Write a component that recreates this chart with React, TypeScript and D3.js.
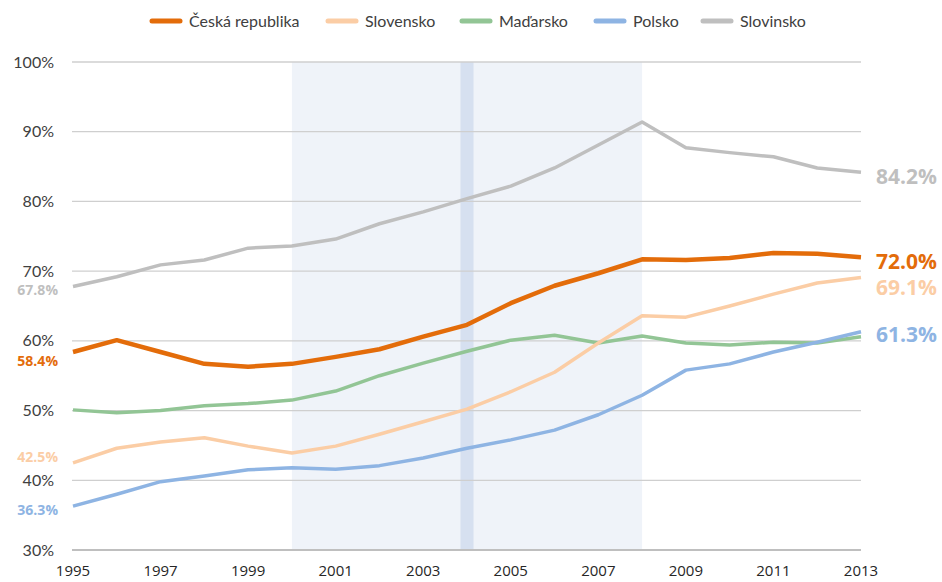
import React from "react";
import * as d3 from "d3";

// years on the x axis
const years = d3.range(1995, 2014);
const xTicks = [1995, 1997, 1999, 2001, 2003, 2005, 2007, 2009, 2011, 2013];
const yTicks = [30, 40, 50, 60, 70, 80, 90, 100];

// series values (%)
const cesko = [58.4, 60.1, 58.4, 56.7, 56.3, 56.7, 57.7, 58.8, 60.6, 62.3, 65.4, 67.9, 69.7, 71.7, 71.6, 71.9, 72.6, 72.5, 72.0];
const slovensko = [42.5, 44.6, 45.5, 46.1, 44.9, 43.9, 44.9, 46.6, 48.4, 50.2, 52.7, 55.5, 59.7, 63.6, 63.4, 65.0, 66.7, 68.3, 69.1];
const madarsko = [50.1, 49.7, 50.0, 50.7, 51.0, 51.5, 52.8, 55.0, 56.8, 58.5, 60.1, 60.8, 59.7, 60.7, 59.7, 59.4, 59.8, 59.7, 60.6];
const polsko = [36.3, 38.0, 39.8, 40.6, 41.5, 41.8, 41.6, 42.1, 43.2, 44.6, 45.8, 47.2, 49.4, 52.2, 55.8, 56.7, 58.4, 59.8, 61.3];
const slovinsko = [67.8, 69.2, 70.9, 71.6, 73.3, 73.6, 74.6, 76.8, 78.5, 80.4, 82.2, 84.8, 88.1, 91.4, 87.7, 87.0, 86.4, 84.8, 84.2];

// shaded periods
const band = [2000, 2008];
const strip = 2004;

const series = [
  { name: "Česká republika", values: cesko, color: "#e36c0a", width: 4.5, startDy: 9, endDy: 4, endLabel: true, order: 4 },
  { name: "Slovensko", values: slovensko, color: "#fbcda5", width: 3.5, startDy: -6, endDy: 10, endLabel: true, order: 3 },
  { name: "Maďarsko", values: madarsko, color: "#92c595", width: 3.5, startDy: 0, endDy: 0, endLabel: false, order: 1 },
  { name: "Polsko", values: polsko, color: "#8eb4e3", width: 3.5, startDy: 4, endDy: 3, endLabel: true, order: 2 },
  { name: "Slovinsko", values: slovinsko, color: "#bfbfbf", width: 3.5, startDy: 4, endDy: 5, endLabel: true, order: 0 },
];

const legendX = [152, 328, 462, 596, 703];

const W = 942;
const H = 582;

export default function App() {
  const x = d3.scaleLinear().domain([1995, 2013]).range([73, 861]);
  const y = d3.scaleLinear().domain([30, 100]).range([550, 62]);
  const line = d3
    .line<number>()
    .x((_, i) => x(years[i]))
    .y((d) => y(d));

  const font = "'Open Sans', 'Liberation Sans', sans-serif";
  const lato = "Lato, 'Open Sans', sans-serif";
  const narrow = "'Liberation Sans Narrow', 'Open Sans', sans-serif";

  const drawOrder = [...series].sort((a, b) => a.order - b.order);

  return (
    <svg width={W} height={H} style={{ position: "absolute", left: 0, top: 0, background: "#fff" }}>
      {/* shaded band */}
      <rect x={x(band[0])} y={y(100)} width={x(band[1]) - x(band[0])} height={y(30) - y(100)} fill="#eff3f9" />
      <rect x={x(strip) - 6.5} y={y(100)} width={13} height={y(30) - y(100)} fill="#d6e0f0" />

      {/* grid */}
      {yTicks.map((t) => (
        <g key={t}>
          <line x1={72} x2={861} y1={y(t)} y2={y(t)} stroke={t === 30 ? "#bfbfbf" : "#cfcfcf"} strokeWidth={t === 30 ? 2 : 1.3} />
          <text x={54} y={y(t)} dy="0.35em" textAnchor="end" fontSize={16} fill="#404040" fontFamily={lato}>
            {t}%
          </text>
        </g>
      ))}

      {/* x labels */}
      {xTicks.map((t) => (
        <text key={t} x={x(t)} y={576} textAnchor="middle" fontSize={15} fill="#262626" fontFamily={narrow}>
          {t}
        </text>
      ))}

      {/* lines */}
      {drawOrder.map((s) => (
        <path key={s.name} d={line(s.values) || ""} fill="none" stroke={s.color} strokeWidth={s.width} strokeLinejoin="round" />
      ))}

      {/* start labels */}
      {series
        .filter((s) => s.endLabel)
        .map((s) => (
          <text key={s.name} x={58} y={y(s.values[0]) + s.startDy} dy="0.35em" textAnchor="end" fontSize={14} fontWeight="bold" fill={s.color} fontFamily={font}>
            {s.values[0].toFixed(1)}%
          </text>
        ))}

      {/* end labels */}
      {series
        .filter((s) => s.endLabel)
        .map((s) => {
          const v = s.values[s.values.length - 1];
          return (
            <text key={s.name} x={876} y={y(v) + s.endDy} dy="0.35em" fontSize={21} fontWeight="bold" fill={s.color} fontFamily={font}>
              {v.toFixed(1)}%
            </text>
          );
        })}

      {/* legend */}
      {series.map((s, i) => (
        <g key={s.name} transform={`translate(${legendX[i]},21)`}>
          <line x1={0} x2={28} y1={0} y2={0} stroke={s.color} strokeWidth={5} strokeLinecap="round" />
          <text x={37} y={0} dy="0.35em" fontSize={16} fill="#404040" fontFamily={lato}>
            {s.name}
          </text>
        </g>
      ))}
    </svg>
  );
}
